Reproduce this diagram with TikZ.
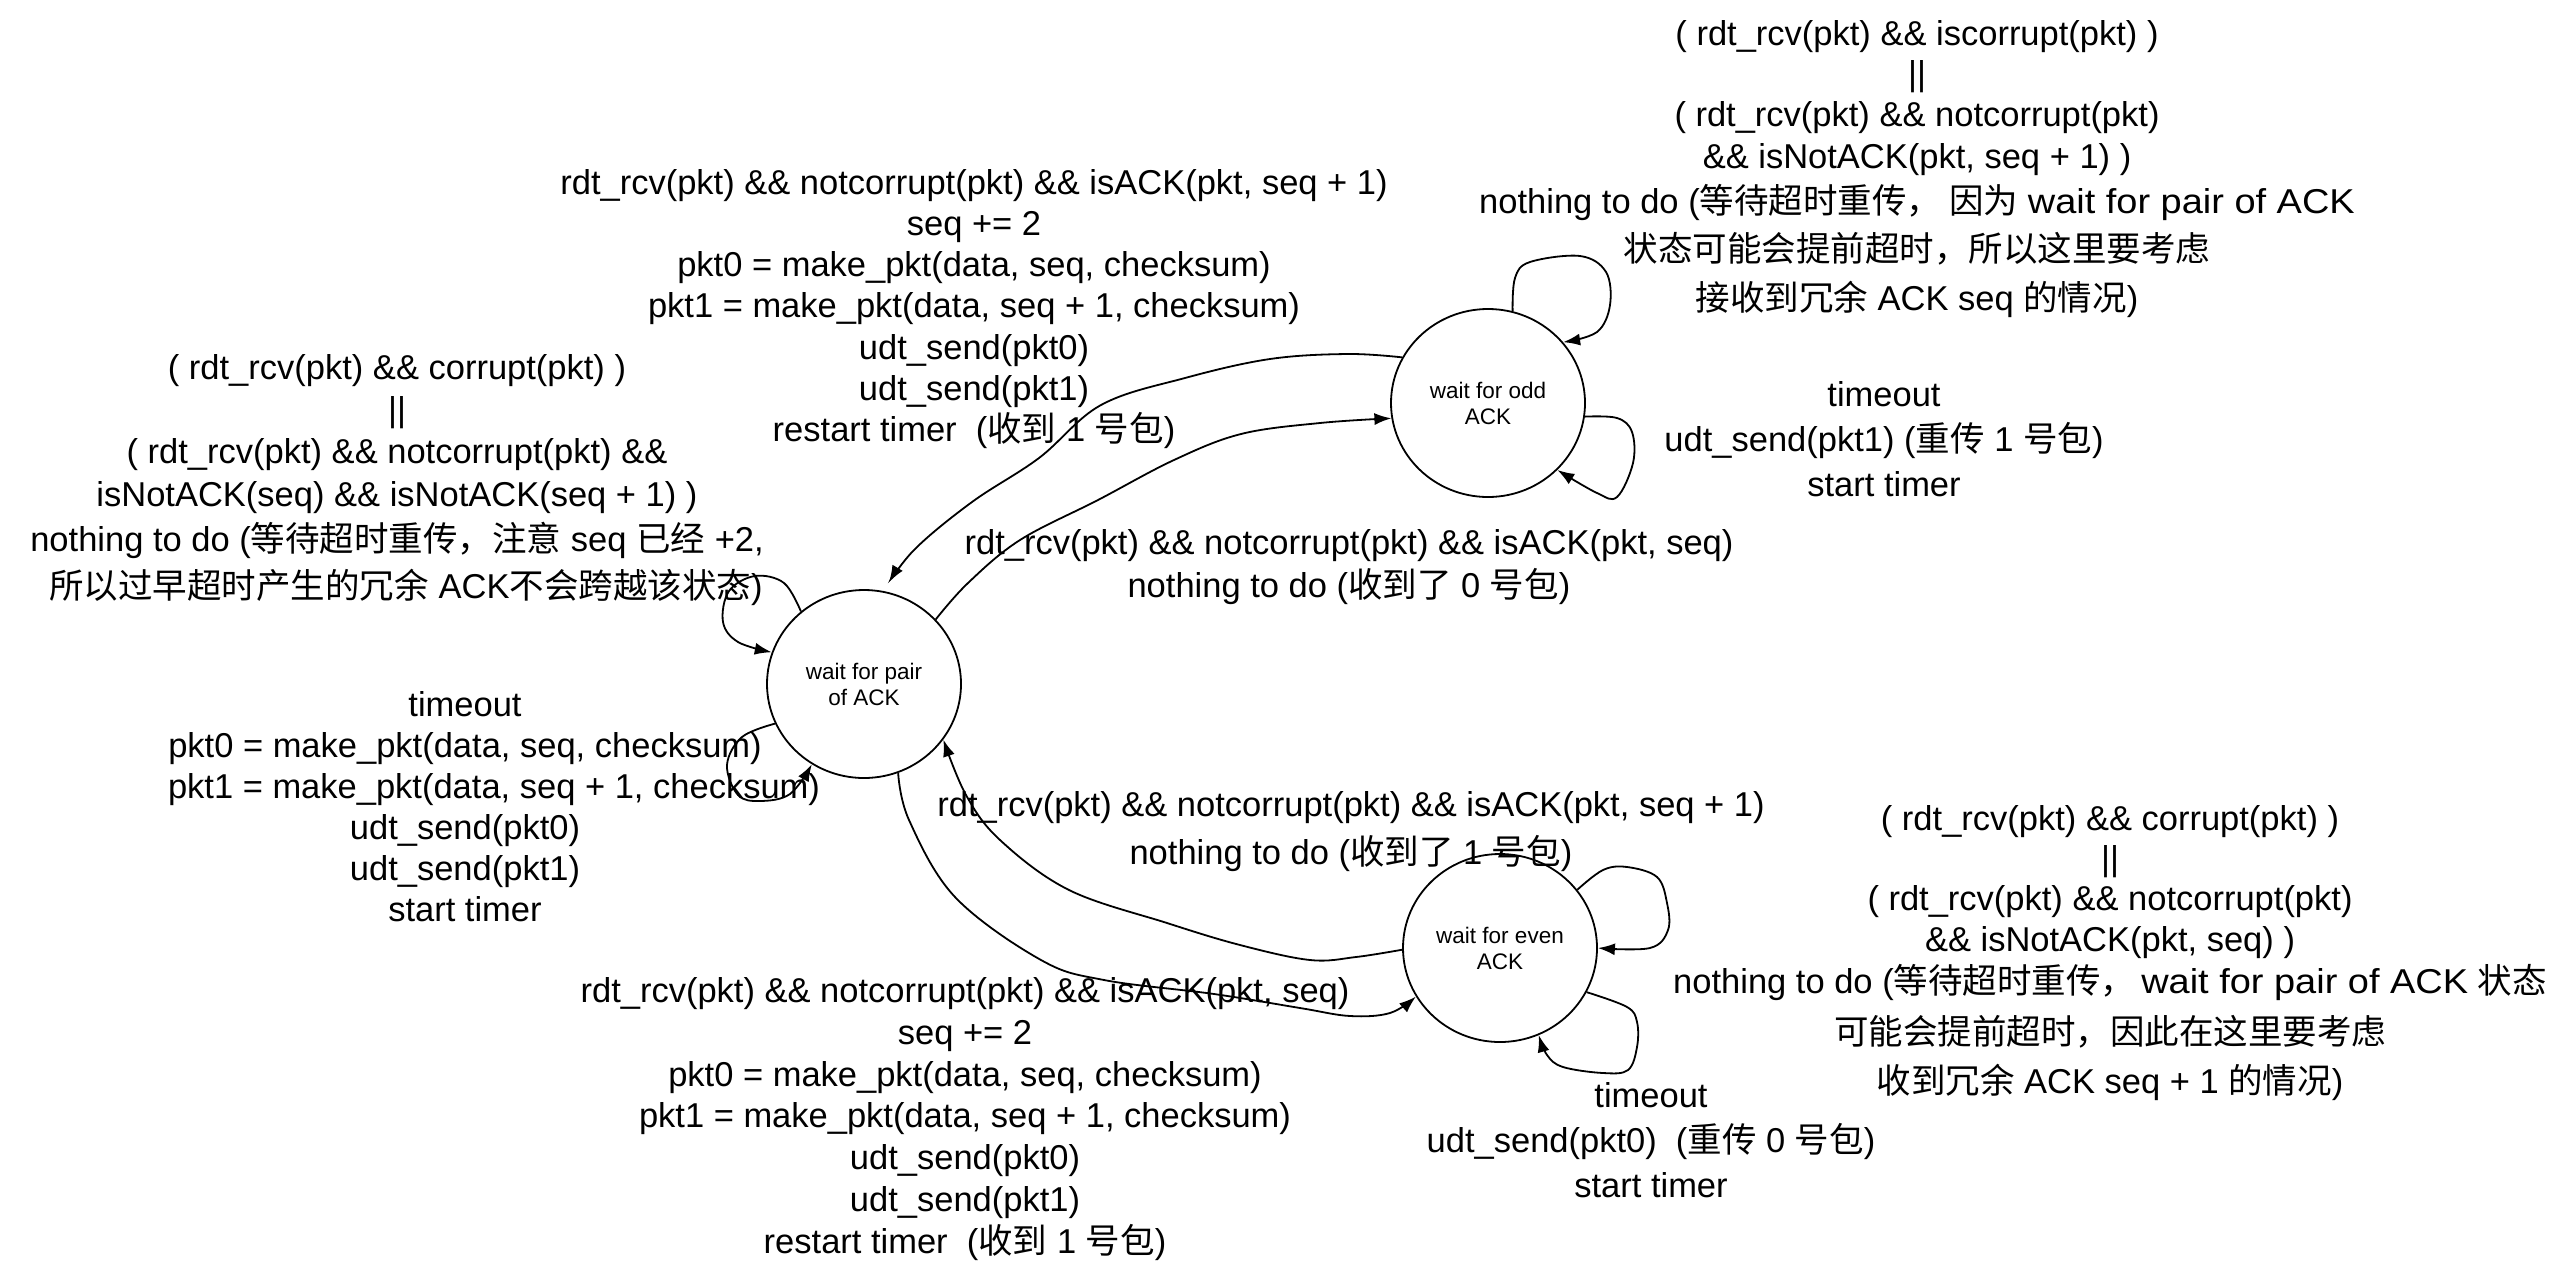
\documentclass[tikz,border=0pt]{standalone}
\usepackage{fontspec}
\usepackage{graphicx}
\setmainfont{Liberation Sans}
\newfontfamily\cjkfont{Noto Sans CJK SC}
\usetikzlibrary{arrows.meta,shapes.geometric}
\newcommand\zh[1]{{\cjkfont #1}}
\newcommand\wide[1]{\scalebox{1.1}[1]{#1}}

\begin{document}
\begin{tikzpicture}[x=1pt,y=-1pt,
  state/.style={draw, ellipse, line width=1.8pt, minimum width=194pt,
    minimum height=188pt, inner sep=0pt, align=center,
    font=\fontsize{22.5}{26}\selectfont},
  lbl/.style={align=center, inner sep=0pt},
  txt/.style={font=\fontsize{34.5}{#1}\selectfont},
  edge/.style={line width=1.8pt, -{Latex[length=17pt,width=12pt]}},
  smoothline/.style={smooth, tension=0.6},
]
\fill[white] (0,0) rectangle (2555,1272);
\useasboundingbox (0,0) rectangle (2555,1272);

% states
\node[state] (pair) at (864,684) {wait for pair\\of ACK};
\node[state] (odd)  at (1488,403) {wait for odd\\ACK};
\node[state] (even) at (1500,948) {wait for even\\ACK};

% self loops of "wait for pair of ACK"
\draw[edge] plot[smoothline] coordinates {(pair.131) (784,583) (755,576) (729,591) (723,622) (738,642) (pair.161)};
\draw[edge] plot[smoothline] coordinates {(pair.204) (742,737) (727,765) (738,795) (760,801) (790,794) (pair.237)};

% transitions between pair and odd
\draw[edge, shorten >=10pt] plot[smoothline] coordinates {(odd.152) (1348,354) (1270,359) (1185,378) (1101,405) (1039,458) (972,502) (914,550) (pair.78)};
\draw[edge] plot[smoothline] coordinates {(pair.42) (968,583) (1020,540) (1098,500) (1174,460) (1241,434) (1320,423) (odd.189)};

% self loops of "wait for odd ACK"
\draw[edge] plot[smoothline] coordinates {(odd.75) (1515,278) (1530,262) (1580,256) (1606,272) (1610,305) (1597,332) (odd.39)};
\draw[edge] plot[smoothline] coordinates {(odd.-8) (1617,418) (1632,432) (1633,463) (1617,497) (1597,493) (odd.-44)};

% self loops of "wait for even ACK"
\draw[edge] plot[smoothline] coordinates {(even.37) (1603,870) (1627,867) (1657,877) (1667,903) (1668,930) (1650,948) (even.0)};
\draw[edge] plot[smoothline] coordinates {(even.-27) (1627,1007) (1637,1022) (1637,1047) (1628,1070) (1603,1073) (1563,1067) (1547,1055) (even.-66)};

% transitions between pair and even
\draw[edge] plot[smoothline] coordinates {(pair.-69) (909,820) (955,897) (1041,960) (1104,980) (1214,994) (1300,1008) (1350,1016) (1390,1013) (even.210)};
\draw[edge] plot[smoothline] coordinates {(even.181) (1356,957) (1310,960) (1240,945) (1167,923) (1069,890) (1000,840) (966,795) (pair.-35)};

% transition labels
\node[lbl, txt=41.3] (toOdd) at (974,309) {rdt\_rcv(pkt) \&\& notcorrupt(pkt) \&\& isACK(pkt, seq + 1)\\
seq += 2\\
pkt0 = make\_pkt(data, seq, checksum)\\
pkt1 = make\_pkt(data, seq + 1, checksum)\\
udt\_send(pkt0)\\
udt\_send(pkt1)\\
restart timer\ \ (\zh{收到} 1 \zh{号包})};

\node[lbl, txt=42] (pairStay) at (397,480) {( rdt\_rcv(pkt) \&\& corrupt(pkt) )\\
||\\
( rdt\_rcv(pkt) \&\& notcorrupt(pkt) \&\&\\[1pt]
isNotACK(seq) \&\& isNotACK(seq + 1) )\\[3pt]
nothing to do (\zh{等待超时重传，注意} seq \zh{已经} +2,\hspace*{28pt}\\[5pt]
\hspace*{18pt}\zh{所以过早超时产生的冗余} ACK\zh{不会跨越该状态})};

\node[lbl, txt=41] (pairTimeout) at (465,807) {timeout\\
pkt0 = make\_pkt(data, seq, checksum)\\
\hspace*{58pt}pkt1 = make\_pkt(data, seq + 1, checksum)\\
udt\_send(pkt0)\\
udt\_send(pkt1)\\
start timer};

\node[lbl, txt=43] (oddBack) at (1349,567) {rdt\_rcv(pkt) \&\& notcorrupt(pkt) \&\& isACK(pkt, seq)\\
nothing to do (\zh{收到了} 0 \zh{号包})};

\node[lbl, txt=48] (evenBack) at (1351,832) {rdt\_rcv(pkt) \&\& notcorrupt(pkt) \&\& isACK(pkt, seq + 1)\\
nothing to do (\zh{收到了} 1 \zh{号包})};

\node[lbl, txt=41.8] (toEven) at (965,1119) {rdt\_rcv(pkt) \&\& notcorrupt(pkt) \&\& isACK(pkt, seq)\\
seq += 2\\
pkt0 = make\_pkt(data, seq, checksum)\\
pkt1 = make\_pkt(data, seq + 1, checksum)\\
udt\_send(pkt0)\\
udt\_send(pkt1)\\
restart timer\ \ (\zh{收到} 1 \zh{号包})};

\node[lbl, txt=45] (oddTimeout) at (1884,439) {timeout\\
udt\_send(pkt1) (\zh{重传} 1 \zh{号包})\\
start timer};

\node[lbl, txt=40.5] (oddStay) at (1917,169) {( rdt\_rcv(pkt) \&\& iscorrupt(pkt) )\\
||\\
( rdt\_rcv(pkt) \&\& notcorrupt(pkt)\\[1.5pt]
\&\& isNotACK(pkt, seq + 1) )\\[4.5pt]
nothing to do (\zh{等待超时重传，}\hspace{8pt}\zh{因为} \wide{wait for pair of ACK}\\[7.5pt]
\zh{状态可能会提前超时，所以这里要考虑}\\[8.5pt]
\zh{接收到冗余} ACK seq \zh{的情况})};

\node[lbl, txt=40] (evenStay) at (2110,953) {( rdt\_rcv(pkt) \&\& corrupt(pkt) )\\
||\\
( rdt\_rcv(pkt) \&\& notcorrupt(pkt)\\[1.5pt]
\&\& isNotACK(pkt, seq) )\\[1.5pt]
nothing to do (\zh{等待超时重传，}\hspace{6pt}\wide{wait for pair of ACK} \zh{状态}\\[11pt]
\zh{可能会提前超时，因此在这里要考虑}\\[9pt]
\zh{收到冗余} ACK seq + 1 \zh{的情况})};

\node[lbl, txt=45] (evenTimeout) at (1651,1140) {timeout\\
udt\_send(pkt0)\ \ (\zh{重传} 0 \zh{号包})\\
start timer};
\end{tikzpicture}
\end{document}
